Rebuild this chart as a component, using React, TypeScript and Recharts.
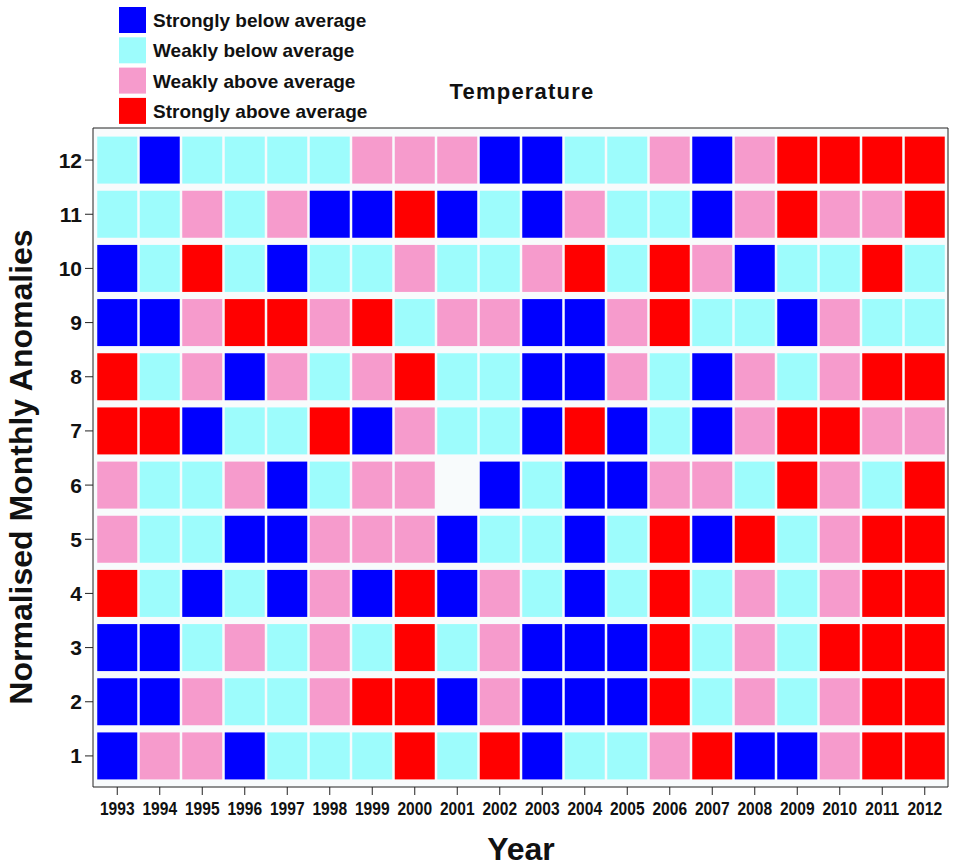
import { CartesianGrid, Scatter, ScatterChart, XAxis, YAxis } from "recharts"

const years = [1993, 1994, 1995, 1996, 1997, 1998, 1999, 2000, 2001, 2002, 2003, 2004, 2005, 2006, 2007, 2008, 2009, 2010, 2011, 2012]
const months = [1, 2, 3, 4, 5, 6, 7, 8, 9, 10, 11, 12]

const categories = ["Strongly below average", "Weakly below average", "Weakly above average", "Strongly above average"]
const codes = ["B", "C", "P", "R"]
const colors = ["#0000ff", "#9dfcfc", "#f69bcc", "#ff0000"]

// one letter per year, 1993 -> 2012; "-" = no data
const month1 = ["B", "P", "P", "B", "C", "C", "C", "R", "C", "R", "B", "C", "C", "P", "R", "B", "B", "P", "R", "R"]
const month2 = ["B", "B", "P", "C", "C", "P", "R", "R", "B", "P", "B", "B", "B", "R", "C", "P", "C", "P", "R", "R"]
const month3 = ["B", "B", "C", "P", "C", "P", "C", "R", "C", "P", "B", "B", "B", "R", "C", "P", "C", "R", "R", "R"]
const month4 = ["R", "C", "B", "C", "B", "P", "B", "R", "B", "P", "C", "B", "C", "R", "C", "P", "C", "P", "R", "R"]
const month5 = ["P", "C", "C", "B", "B", "P", "P", "P", "B", "C", "C", "B", "C", "R", "B", "R", "C", "P", "R", "R"]
const month6 = ["P", "C", "C", "P", "B", "C", "P", "P", "-", "B", "C", "B", "B", "P", "P", "C", "R", "P", "C", "R"]
const month7 = ["R", "R", "B", "C", "C", "R", "B", "P", "C", "C", "B", "R", "B", "C", "B", "P", "R", "R", "P", "P"]
const month8 = ["R", "C", "P", "B", "P", "C", "P", "R", "C", "C", "B", "B", "P", "C", "B", "P", "C", "P", "R", "R"]
const month9 = ["B", "B", "P", "R", "R", "P", "R", "C", "P", "P", "B", "B", "P", "R", "C", "C", "B", "P", "C", "C"]
const month10 = ["B", "C", "R", "C", "B", "C", "C", "P", "C", "C", "P", "R", "C", "R", "P", "B", "C", "C", "R", "C"]
const month11 = ["C", "C", "P", "C", "P", "B", "B", "R", "B", "C", "B", "P", "C", "C", "B", "P", "R", "P", "P", "R"]
const month12 = ["C", "B", "C", "C", "C", "C", "P", "P", "P", "B", "B", "C", "C", "P", "B", "P", "R", "R", "R", "R"]

const monthRows = [month1, month2, month3, month4, month5, month6, month7, month8, month9, month10, month11, month12]

const seriesData = codes.map((code) => {
  const pts: { year: number; month: number }[] = []
  monthRows.forEach((row, mi) => {
    row.forEach((c, yi) => {
      if (c === code) pts.push({ year: years[yi], month: months[mi] })
    })
  })
  return pts
})

const FONT = "'Liberation Sans', Arial, sans-serif"
const CELL_W = 40
const CELL_H = 47

const Cell = (props: any) => {
  const { cx, cy, fill } = props
  if (cx == null || cy == null) return null
  return <rect x={cx - CELL_W / 2} y={cy - CELL_H / 2} width={CELL_W} height={CELL_H} fill={fill} />
}

// condensed year labels
const YearTick = (props: any) => {
  const { x, y, payload } = props
  return (
    <text
      transform={`translate(${x}, ${y + 14}) scale(0.82, 1)`}
      textAnchor="middle"
      fontFamily={FONT}
      fontWeight="bold"
      fontSize={19}
      fill="#111"
    >
      {payload.value}
    </text>
  )
}

const blank = () => ""

export default function App() {
  return (
    <div style={{ position: "absolute", left: 0, top: 0, width: 960, height: 868, background: "#fff" }}>
      <ScatterChart width={960} height={868} margin={{ top: 118, right: 0, bottom: 41, left: 33 }}>
        <CartesianGrid fill="#f8fbfc" stroke="none" horizontal={false} vertical={false} />
        <XAxis
          dataKey="year"
          type="number"
          domain={[1992.5, 2012.5]}
          ticks={years}
          interval={0}
          padding={{ left: 3, right: 2 }}
          height={40}
          tickSize={8}
          tickMargin={6}
          axisLine={{ stroke: "#222" }}
          tickLine={{ stroke: "#222" }}
          tick={<YearTick />}
        />
        <XAxis
          xAxisId="top"
          orientation="top"
          type="number"
          domain={[1992.5, 2012.5]}
          ticks={years}
          interval={0}
          padding={{ left: 3, right: 2 }}
          height={10}
          tickSize={8}
          tickFormatter={blank}
          axisLine={{ stroke: "#222" }}
          tickLine={{ stroke: "#222" }}
        />
        <YAxis
          dataKey="month"
          type="number"
          domain={[0.5, 12.5]}
          ticks={months}
          interval={0}
          padding={{ top: 5, bottom: 4 }}
          width={60}
          tickSize={8}
          tickMargin={3}
          axisLine={{ stroke: "#222" }}
          tickLine={{ stroke: "#222" }}
          tick={{ fill: "#111", fontSize: 21, fontWeight: "bold", fontFamily: FONT }}
        />
        <YAxis
          yAxisId="right"
          orientation="right"
          type="number"
          domain={[0.5, 12.5]}
          ticks={months}
          interval={0}
          padding={{ top: 5, bottom: 4 }}
          width={12}
          tickSize={8}
          tickFormatter={blank}
          axisLine={{ stroke: "#222" }}
          tickLine={{ stroke: "#222" }}
        />
        {categories.map((name, i) => (
          <Scatter key={name} name={name} data={seriesData[i]} fill={colors[i]} shape={Cell} isAnimationActive={false} />
        ))}
      </ScatterChart>

      <svg width={960} height={868} style={{ position: "absolute", left: 0, top: 0, pointerEvents: "none" }}>
        {categories.map((name, i) => (
          <g key={name}>
            <rect x={119} y={7 + i * 30.3} width={27} height={26} fill={colors[i]} />
            <text x={153} y={27 + i * 30.3} fontFamily={FONT} fontWeight="bold" fontSize={19} fill="#111">
              {name}
            </text>
          </g>
        ))}
        <text x={522} y={99} textAnchor="middle" fontFamily={FONT} fontWeight="bold" fontSize={22} letterSpacing={1.2} fill="#111">
          Temperature
        </text>
        <text x={521} y={860} textAnchor="middle" fontFamily={FONT} fontWeight="bold" fontSize={32} fill="#111">
          Year
        </text>
        <text
          x={0}
          y={0}
          transform="translate(32, 467) rotate(-90)"
          textAnchor="middle"
          fontFamily={FONT}
          fontWeight="bold"
          fontSize={32}
          fill="#111"
        >
          Normalised Monthly Anomalies
        </text>
      </svg>
    </div>
  )
}
